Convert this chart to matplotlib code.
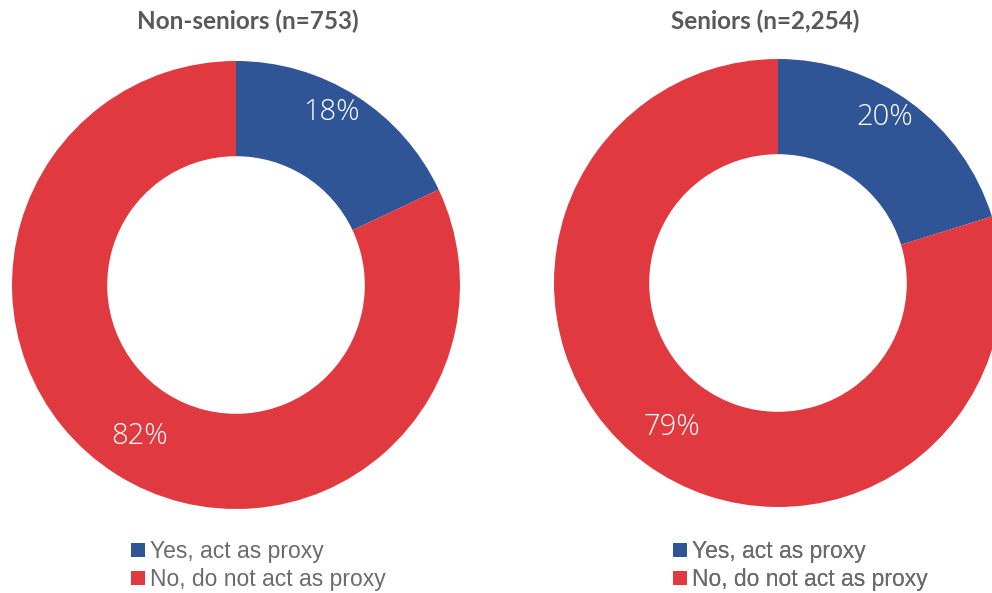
import numpy as np
import matplotlib.pyplot as plt
from matplotlib.patches import Patch

groups = ["Non-seniors (n=753)", "Seniors (n=2,254)"]
categories = ["Yes, act as proxy", "No, do not act as proxy"]
values = [[18, 82], [20, 79]]
colors = ["#2F5597", "#E03A40"]

W, H = 992, 593
fig = plt.figure(figsize=(W / 100, H / 100), dpi=100)
ax = fig.add_axes([0, 0, 1, 1])

centers = [(236, H - 285), (778, H - 283)]
radius = 224
ring = 0.425
label_r = [0.88, 0.80]        # radial position of the yes / no labels
label_turn = [3.5, 0.0]       # angular nudge (deg) of the yes / no labels
title_x = [248, 765]
legend_x = [131, 673]

for vals, title, (cx, cy), tx, lx in zip(values, groups, centers, title_x, legend_x):
    ax.pie(vals, colors=colors, startangle=90, counterclock=False,
           center=(cx, cy), radius=radius, frame=True,
           wedgeprops=dict(width=radius * ring, linewidth=0))
    total = sum(vals)
    start = 90.0
    for v, lr, lt in zip(vals, label_r, label_turn):
        span = 360.0 * v / total
        mid = np.deg2rad(start - span / 2 + lt)
        rr = radius * lr
        ax.text(cx + rr * np.cos(mid), cy + rr * np.sin(mid), f"{v}%",
                ha="center", va="center", color="white", fontsize=21,
                family="Open Sans", fontweight="light")
        start -= span
    ax.text(tx, H - 21, title, ha="center", va="center", fontsize=17.5,
            fontweight="bold", color="#595959", family="Lato")
    handles = [Patch(facecolor=c, edgecolor="none") for c in colors]
    leg = ax.legend(handles, categories, loc="upper left",
                    bbox_to_anchor=(lx, H - 540), bbox_transform=ax.transData,
                    frameon=False, handlelength=0.6, handleheight=0.6,
                    handletextpad=0.25, labelspacing=0.22, borderpad=0, borderaxespad=0,
                    prop=dict(family="Liberation Sans", size=16.5))
    for t in leg.get_texts():
        t.set_color("#6b6b6b")
    ax.add_artist(leg)

ax.set_xlim(0, W)
ax.set_ylim(0, H)
ax.set_aspect("equal")
ax.axis("off")
fig.savefig("out.png", dpi=100, facecolor="white")
